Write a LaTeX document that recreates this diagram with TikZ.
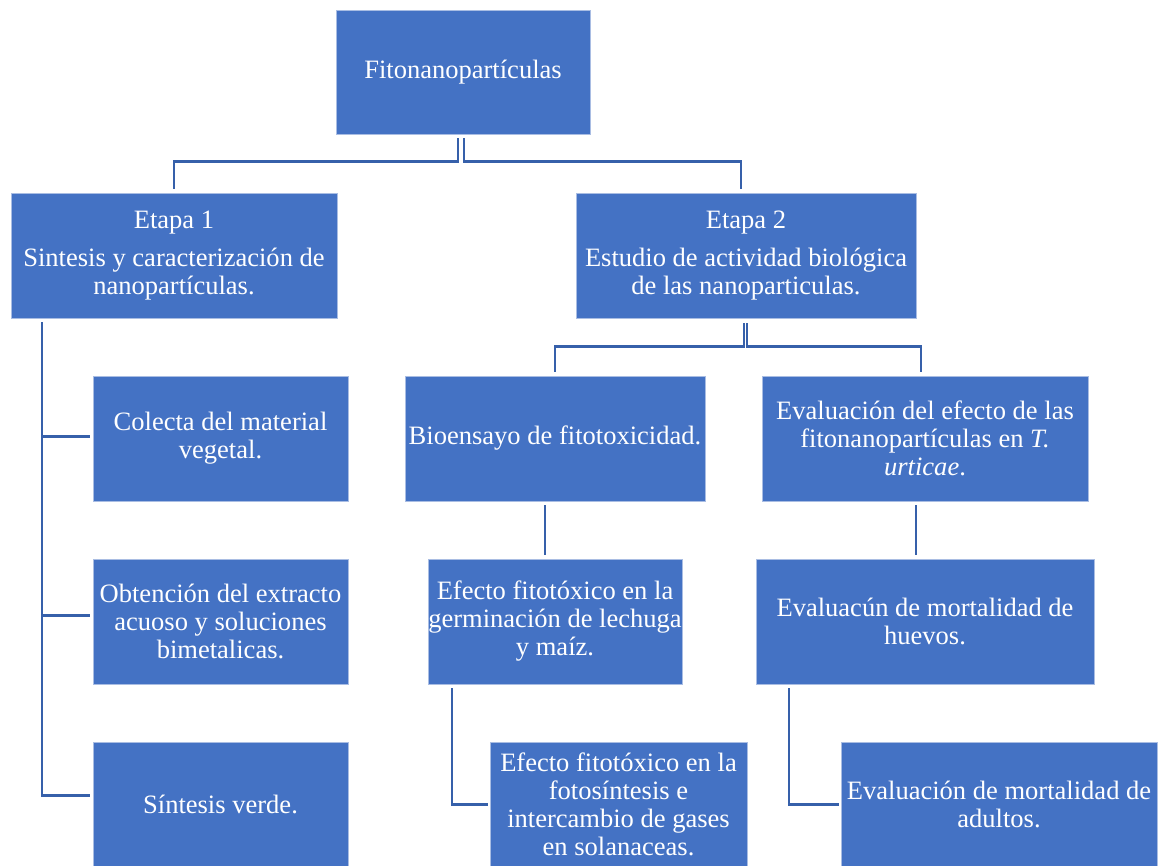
\documentclass[tikz,border=0pt]{standalone}
\usepackage{fontspec}
\setmainfont{Liberation Serif}
\usetikzlibrary{calc}
\definecolor{boxblue}{HTML}{4472C4}
\definecolor{boxedge}{HTML}{A9BDE3}
\definecolor{linkblue}{HTML}{3660AA}
\tikzset{
  box/.style={rectangle, fill=boxblue, draw=boxedge, line width=0.6pt, text=white,
    align=center, inner sep=0pt, font=\fontsize{19.9pt}{21pt}\selectfont},
  conn/.style={draw=linkblue, line width=2.2pt},
}
\begin{document}
\begin{tikzpicture}[x=0.75pt, y=-0.75pt]
\useasboundingbox[fill=white] (0,0) rectangle (1168,866);
\node[box, minimum width=254*0.75pt, minimum height=124*0.75pt] (root) at (463,72) {Fitonanopartículas};
\node[box, minimum width=326*0.75pt, minimum height=125*0.75pt] (e1) at (174,255.5) {Etapa 1\\[8pt]Sintesis y caracterización de\\nanopartículas.};
\node[box, minimum width=340*0.75pt, minimum height=125*0.75pt] (e2) at (746,255.5) {Etapa 2\\[8pt]Estudio de actividad biológica\\de las nanoparticulas.};
\node[box, minimum width=255*0.75pt, minimum height=125*0.75pt] (c1) at (220.5,438.5) {Colecta del material\\vegetal.};
\node[box, minimum width=255*0.75pt, minimum height=125*0.75pt] (c2) at (220.5,621.5) {Obtención del extracto\\acuoso y soluciones\\bimetalicas.};
\node[box, minimum width=255*0.75pt, minimum height=125*0.75pt] (c3) at (220.5,804.5) {Síntesis verde.};
\node[box, minimum width=300*0.75pt, minimum height=125*0.75pt] (b1) at (555,438.5) {Bioensayo de fitotoxicidad.};
\node[box, minimum width=326*0.75pt, minimum height=125*0.75pt] (b2) at (925,438.5) {Evaluación del efecto de las\\fitonanopartículas en \textit{T.}\\\textit{urticae}.};
\node[box, minimum width=254*0.75pt, minimum height=125*0.75pt] (d1) at (555,621.5) {Efecto fitotóxico en la\\germinación de lechuga\\y maíz.};
\node[box, minimum width=338*0.75pt, minimum height=125*0.75pt] (d2) at (925,621.5) {Evaluacún de mortalidad de\\huevos.};
\node[box, minimum width=257*0.75pt, minimum height=125*0.75pt] (f1) at (618.5,804.5) {Efecto fitotóxico en la\\fotosíntesis e\\intercambio de gases\\en solanaceas.};
\node[box, minimum width=316*0.75pt, minimum height=125*0.75pt] (f2) at (999,804.5) {Evaluación de mortalidad de\\adultos.};
% root to stages
\draw[conn] ($(root.south)+(-5,4)$) |- ($(e1.north)+(0,-31)$) -- ($(e1.north)+(0,-4)$);
\draw[conn] ($(root.south)+(1,4)$) |- ($(e2.north)+(-5,-31)$) -- ($(e2.north)+(-5,-4)$);
% stage 1 children
\draw[conn] ($(e1.south)+(-132,4)$) |- ($(c1.west)+(-3,-2)$);
\draw[conn] ($(e1.south)+(-132,4)$) |- ($(c2.west)+(-3,-6)$);
\draw[conn] ($(e1.south)+(-132,4)$) |- ($(c3.west)+(-3,-9)$);
% stage 2 children
\draw[conn] ($(e2.south)+(-2,5)$) |- ($(b1.north)+(0,-29)$) -- ($(b1.north)+(0,-4)$);
\draw[conn] ($(e2.south)+(1,5)$) |- ($(b2.north)+(-4,-29)$) -- ($(b2.north)+(-4,-4)$);
\draw[conn] ($(b1.south)+(-10,4)$) -- ($(d1.north)+(-10,-4)$);
\draw[conn] ($(b2.south)+(-9,4)$) -- ($(d2.north)+(-9,-4)$);
\draw[conn] ($(d1.south)+(-103,4)$) |- ($(f1.west)+(-2,0)$);
\draw[conn] ($(d2.south)+(-136,4)$) |- ($(f2.west)+(-2,0)$);
\end{tikzpicture}
\end{document}
